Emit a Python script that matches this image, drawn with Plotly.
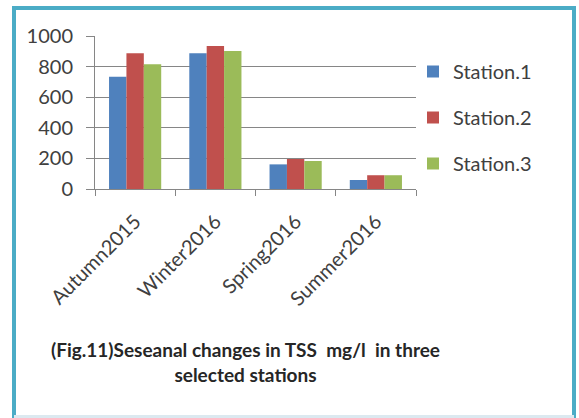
import plotly.graph_objects as go

# Data
seasons = ["Autumn2015", "Winter2016", "Spring2016", "Summer2016"]
station1 = [734, 887, 161, 59]
station2 = [887, 935, 196, 90]
station3 = [815, 902, 183, 90]
series_names = ["Station.1", "Station.2", "Station.3"]

colors = ["#4F81BD", "#C0504D", "#9BBB59"]

fig = go.Figure()
for i, (name, vals) in enumerate(zip(series_names, [station1, station2, station3])):
    fig.add_trace(go.Bar(
        x=seasons, y=vals, name=name, marker_color=colors[i],
        marker_line_width=0, legendgroup=name
    ))

W, H = 579, 418
L, R, T, B = 95, 416, 36, 189  # plot area in pixels


def px_x(p):
    return (p - L) / (R - L)


def px_y(p):
    return (B - p) / (B - T)


grid = "#868686"
border = "#4BACC6"
txt = "#404040"

fig.update_layout(
    width=W, height=H,
    margin=dict(l=L, r=W - R, t=T, b=H - B, autoexpand=False),
    paper_bgcolor="white", plot_bgcolor="white",
    barmode="group", bargap=0.35, bargroupgap=0,
    font=dict(family="Lato, Open Sans, sans-serif", color=txt),
    showlegend=True,
    legend=dict(
        x=px_x(413), y=px_y(52), xanchor="left", yanchor="top",
        font=dict(size=20, color=txt), tracegroupgap=17,
        itemwidth=30, bgcolor="rgba(0,0,0,0)"
    ),
    xaxis=dict(
        tickangle=-45, tickfont=dict(size=20, color=txt),
        ticks="outside", tickson="boundaries", ticklen=6, tickcolor=grid,
        ticklabelstandoff=12,
        showline=True, linecolor=grid, linewidth=1, showgrid=False
    ),
    yaxis=dict(
        range=[0, 1000], dtick=200, tickfont=dict(size=20, color=txt),
        ticks="outside", ticklen=8, tickcolor=grid, ticklabelstandoff=9,
        showline=True, linecolor=grid, linewidth=1,
        showgrid=True, gridcolor=grid, gridwidth=1, zeroline=False
    ),
)

fig.add_annotation(
    text="<b>(Fig.11)Seseanal changes in TSS  mg/l  in three<br>selected stations</b>",
    xref="paper", yref="paper", x=px_x(245), y=px_y(362), showarrow=False,
    xanchor="center", yanchor="middle", align="center",
    font=dict(size=19, color="#262626")
)

# outer frame
for x0, y0, x1, y1, c, w in [
    (12, 8, 576, 8, border, 4),
    (14, 6, 14, 418, border, 4),
    (574, 6, 574, 418, border, 4),
    (14, 416.5, 574, 416.5, "#DCE9F0", 3),
]:
    fig.add_shape(type="line", xref="paper", yref="paper",
                  x0=px_x(x0), y0=px_y(y0), x1=px_x(x1), y1=px_y(y1),
                  line=dict(color=c, width=w))

fig.write_html("out.html", config={"displayModeBar": False},
               post_script="document.body.style.margin='0';"
                           "document.body.style.overflow='hidden';"
                           "document.documentElement.style.overflow='hidden';")
